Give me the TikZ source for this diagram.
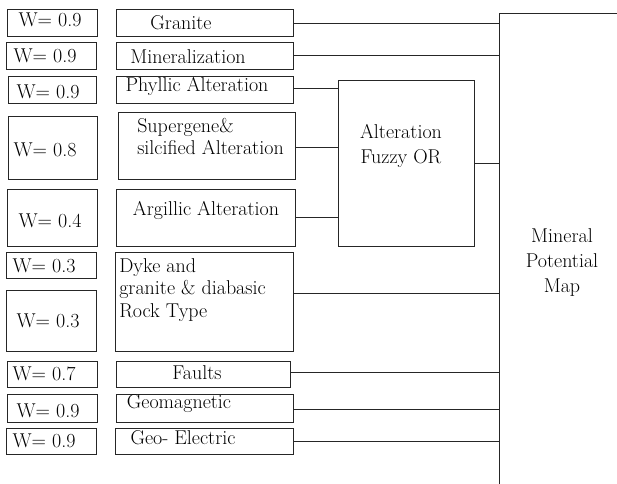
\documentclass[tikz,border=0pt]{standalone}
\begin{document}
\begin{tikzpicture}[x=0.75pt,y=-0.75pt,
  box/.style={draw=black!85,line width=0.75pt,inner sep=0pt,outer sep=0pt},
  txt/.style={inner sep=0pt,font=\fontsize{15}{18}\selectfont},
  wire/.style={draw=black!85,line width=0.75pt}]
\useasboundingbox (0,0) rectangle (617,484);
\newcommand{\mkbox}[5]{\node[box,minimum width={(#4-#2)*0.75pt},minimum height={(#5-#3)*0.75pt}] (#1) at ({(#2+#4)/2},{(#3+#5)/2}) {};}
% weight boxes
\mkbox{w1}{7}{10}{97}{37}
\mkbox{w2}{6}{43}{96}{70}
\mkbox{w3}{8}{77}{96}{104}
\mkbox{w4}{8}{117}{97}{180}
\mkbox{w5}{7}{190}{97}{247}
\mkbox{w6}{6}{253}{96}{279}
\mkbox{w7}{6}{291}{96}{351}
\mkbox{w8}{7}{361}{97}{387}
\mkbox{w9}{7}{394}{97}{422}
\mkbox{w10}{6}{428}{96}{454}
% layer boxes
\mkbox{granite}{116}{10}{293}{37}
\mkbox{mineral}{116}{43}{293}{70}
\mkbox{phyllic}{116}{77}{293}{104}
\mkbox{supergene}{118}{113}{295}{180}
\mkbox{argillic}{116}{190}{295}{247}
\mkbox{dyke}{115}{253}{293}{351}
\mkbox{faults}{116}{361}{290}{387}
\mkbox{geomag}{116}{394}{293}{422}
\mkbox{geoel}{115}{428}{293}{454}
\mkbox{fuzzy}{338}{81}{474}{247}
% weight texts
\node[txt,anchor=base] (tw1) at (50,27) {W= 0.9};
\node[txt,anchor=base] (tw2) at (45,63) {W= 0.9};
\node[txt,anchor=base] (tw3) at (48,99) {W= 0.9};
\node[txt,anchor=base] (tw4) at (45,157) {W= 0.8};
\node[txt,anchor=base] (tw5) at (50,228) {W= 0.4};
\node[txt,anchor=base] (tw6) at (44,273) {W= 0.3};
\node[txt,anchor=base] (tw7) at (48,328) {W= 0.3};
\node[txt,anchor=base] (tw8) at (44,380) {W= 0.7};
\node[txt,anchor=base] (tw9) at (48,417) {W= 0.9};
\node[txt,anchor=base] (tw10) at (44,447) {W= 0.9};
% layer texts
\node[txt,anchor=base] (tgranite) at (181,30) {Granite};
\node[txt,anchor=base] (tmineral) at (188,64) {Mineralization};
\node[txt,anchor=base] (tphyllic) at (197,92) {Phyllic Alteration};
\node[txt,anchor=base west] (tsup1) at (137,133) {Supergene\&};
\node[txt,anchor=base west] (tsup2) at (137,155) {silcified Alteration};
\node[txt,anchor=base] (targ) at (206,216) {Argillic Alteration};
\node[txt,anchor=base west] (tdyke1) at (119,273) {Dyke and};
\node[txt,anchor=base west] (tdyke2) at (119,295) {granite \& diabasic};
\node[txt,anchor=base west] (tdyke3) at (119,318) {Rock Type};
\node[txt,anchor=base] (tfaults) at (197,379) {Faults};
\node[txt,anchor=base] (tgeomag) at (179,408) {Geomagnetic};
\node[txt,anchor=base] (tgeoel) at (183,444) {Geo- Electric};
\node[txt,anchor=base] (tfz1) at (401,139) {Alteration};
\node[txt,anchor=base] (tfz2) at (401,164) {Fuzzy OR};
\node[txt,anchor=base] (tmap1) at (562,243) {Mineral};
\node[txt,anchor=base] (tmap2) at (562,268) {Potential};
\node[txt,anchor=base] (tmap3) at (562,293) {Map};
% map box (open to the right and bottom)
\coordinate (mapNW) at (499,14);
\coordinate (mapNE) at (617,14);
\coordinate (mapSW) at (499,484);
\draw[wire] (mapNE) -- (mapNW) -- (mapSW);
% connectors
\draw[wire] (granite.east) -- (granite.east -| mapNW);
\draw[wire] ([yshift=1pt]mineral.east) -- ([yshift=1pt]mineral.east -| mapNW);
\draw[wire] ([yshift=1.5pt]phyllic.east) -- ([yshift=1.5pt]phyllic.east -| fuzzy.west);
\draw[wire] ([yshift=-1pt]supergene.east) -- ([yshift=-1pt]supergene.east -| fuzzy.west);
\draw[wire] ([yshift=1pt]argillic.east) -- ([yshift=1pt]argillic.east -| fuzzy.west);
\draw[wire] (fuzzy.east) -- (fuzzy.east -| mapNW);
\draw[wire] ([yshift=6pt]dyke.east) -- ([yshift=6pt]dyke.east -| mapNW);
\draw[wire] ([yshift=1.5pt]faults.east) -- ([yshift=1.5pt]faults.east -| mapNW);
\draw[wire] ([yshift=-0.75pt]geomag.east) -- ([yshift=-0.75pt]geomag.east -| mapNW);
\draw[wire] (geoel.east) -- (geoel.east -| mapNW);
\end{tikzpicture}
\end{document}
